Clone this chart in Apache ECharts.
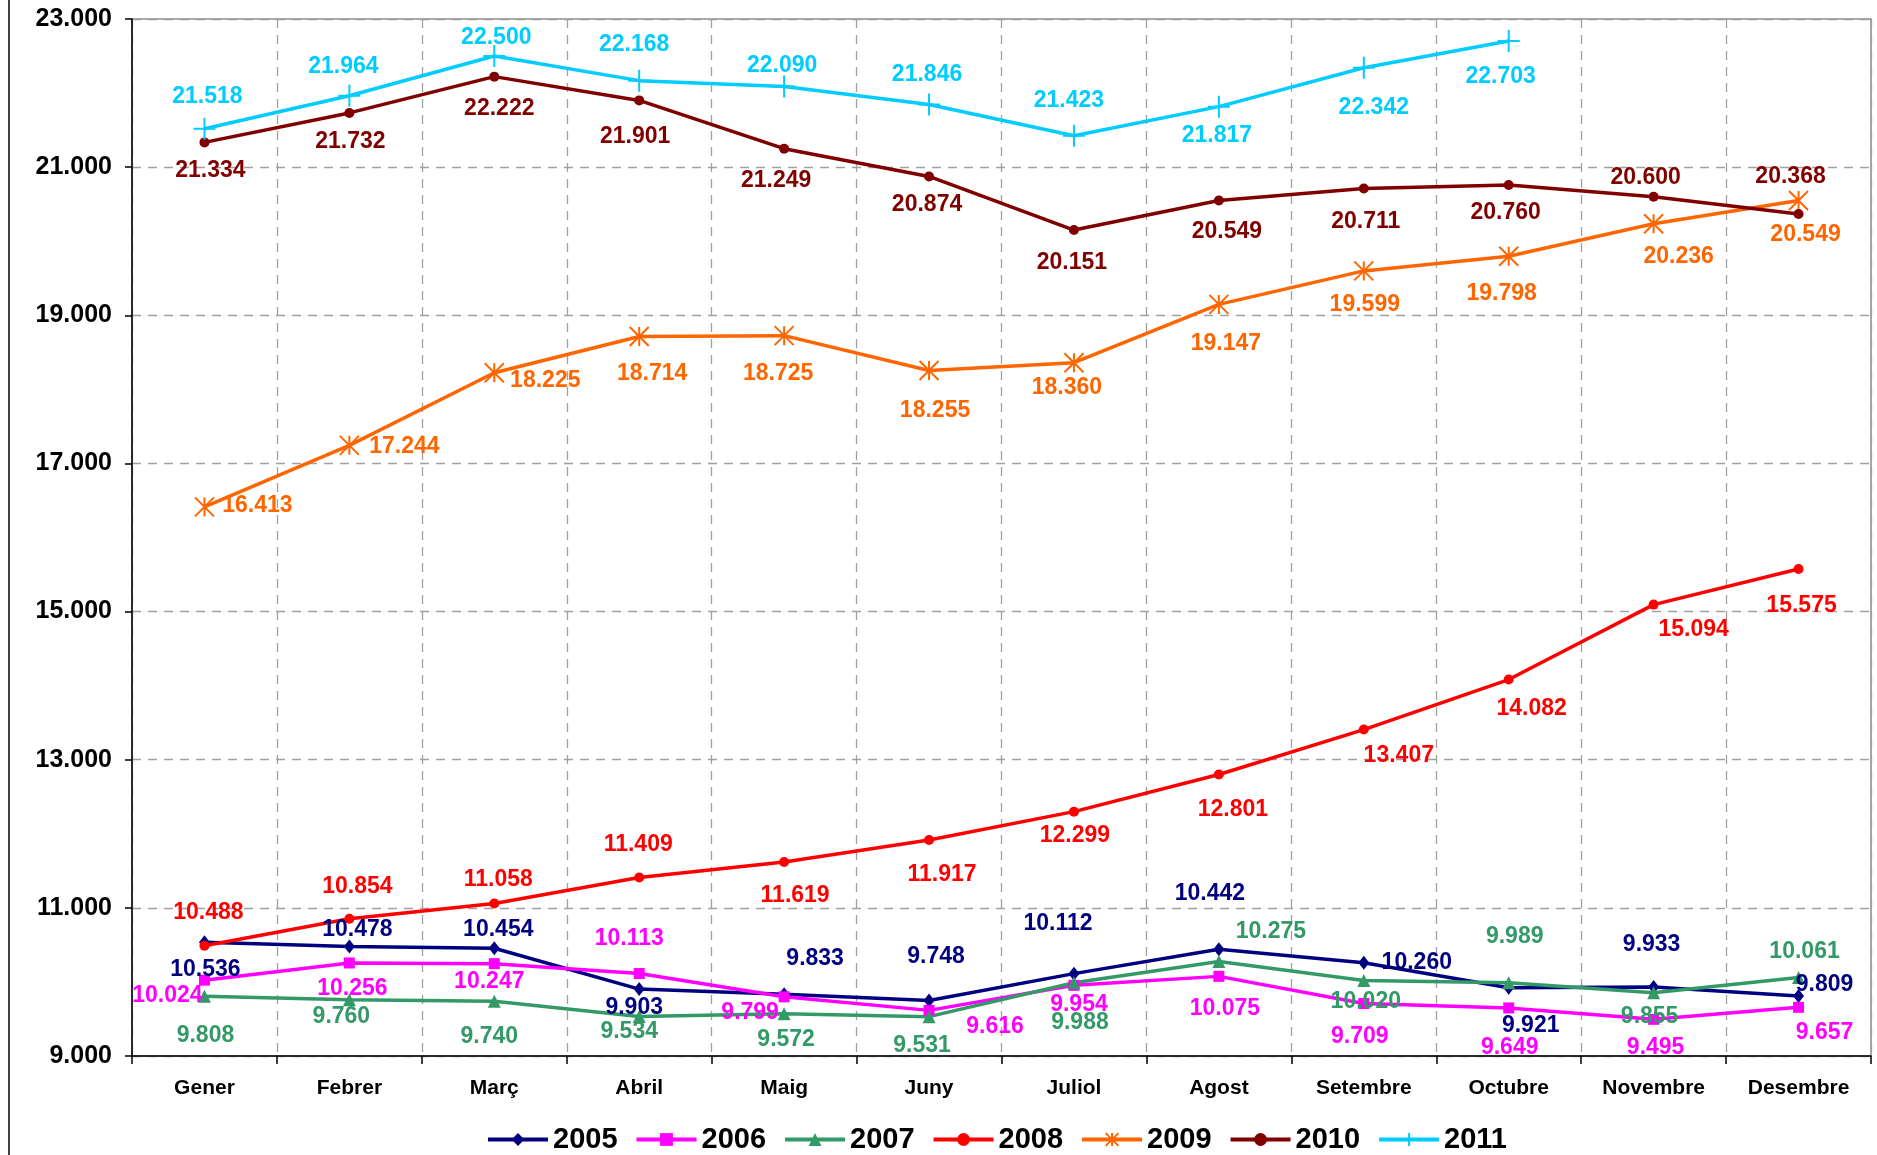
<!DOCTYPE html>
<html>
<head>
<meta charset="utf-8">
<script src="https://cdn.jsdelivr.net/npm/echarts@6/dist/echarts.min.js"></script>
<style>html,body{margin:0;padding:0;background:#fff}#c{width:1877px;height:1155px}</style>
</head>
<body>
<div id="c"></div>
<script>
const categories = ['Gener','Febrer','Març','Abril','Maig','Juny','Juliol','Agost','Setembre','Octubre','Novembre','Desembre'];
const yearNames = ['2005','2006','2007','2008','2009','2010','2011'];
const v2005 = [10536,10478,10454,9903,9833,9748,10112,10442,10260,9921,9933,9809];
const v2006 = [10024,10256,10247,10113,9799,9616,9954,10075,9709,9649,9495,9657];
const v2007 = [9808,9760,9740,9534,9572,9531,9988,10275,10020,9989,9855,10061];
const v2008 = [10488,10854,11058,11409,11619,11917,12299,12801,13407,14082,15094,15575];
const v2009 = [16413,17244,18225,18714,18725,18255,18360,19147,19599,19798,20236,20549];
const v2010 = [21334,21732,22222,21901,21249,20874,20151,20549,20711,20760,20600,20368];
const v2011 = [21518,21964,22500,22168,22090,21846,21423,21817,22342,22703,null,null];
const yTicks = {min: 9000, max: 23000, step: 2000};

// label offsets (style only)
const off2005 = [[1,27],[8,-17],[4,-19],[-5,19],[31,-36],[7,-44],[-16,-50],[-9,-56],[53,0],[22,38],[-2,-42],[26,-11]];
const off2006 = [[-37,16],[3,26],[-5,18],[-10,-35],[-34,16],[66,16],[5,19],[6,32],[-4,33],[1,40],[2,28],[26,25]];
const off2007 = [[1,40],[-8,17],[-5,35],[-10,15],[2,26],[-7,29],[6,40],[52,-30],[2,21],[6,-46],[-4,24],[6,-26]];
const off2008 = [[4,-33],[8,-32],[4,-24],[-1,-33],[11,34],[13,35],[1,24],[14,35],[35,26],[23,29],[40,25],[3,37]];
const off2009 = [[53,-1],[55,1],[51,8],[13,37],[-6,38],[6,40],[-7,25],[7,39],[1,34],[-7,37],[25,33],[7,34]];
const off2010 = [[6,28],[1,29],[5,32],[-4,36],[-8,32],[-2,28],[-2,33],[8,31],[2,33],[-3,28],[-8,-19],[-8,-37]];
const off2011 = [[3,-32],[-6,-29],[2,-18],[-5,-36],[-2,-21],[-2,-30],[-5,-35],[-2,29],[10,40],[-8,36],[0,0],[0,0]];

const FONT = '"Liberation Sans", Arial, Helvetica, sans-serif';
function fmt(v){ return String(v).replace(/\B(?=(\d{3})+(?!\d))/g,'.'); }

const PLUS = 'path://M10,0 L10,20 M0,10 L20,10';
const STAR = 'path://M0,0 L20,20 M20,0 L0,20 M10,0 L10,20';

function mk(name, vals, offs, color, symbol, size, strokeSym) {
  return {
    name: name, type: 'line',
    data: vals.map((v,i) => v == null ? '-' : {value: v, label: {offset: offs[i]}}),
    symbol: symbol, symbolSize: size, showAllSymbol: true,
    lineStyle: {color: color, width: 3.5},
    itemStyle: strokeSym ? {color: color, borderColor: color, borderWidth: 2} : {color: color, borderColor: color, borderWidth: 0},
    label: {
      show: true, position: 'inside', color: color, fontSize: 23, fontWeight: 'bold', fontFamily: FONT,
      formatter: p => fmt(p.value)
    },
    emphasis: {disabled: true},
    connectNulls: false
  };
}

const chart = echarts.init(document.getElementById('c'), null, {renderer: 'canvas'});
chart.setOption({
  animation: false,
  backgroundColor: '#fff',
  grid: {left: 132, right: 6, top: 19, bottom: 99, show: true, borderColor: '#8c8c8c', borderWidth: 1.5, backgroundColor: 'transparent'},
  legend: {
    data: yearNames, left: 486, top: 1125, padding: 0,
    itemWidth: 60, itemHeight: 16, itemGap: 17,
    lineStyle: {width: 4},
    textStyle: {fontSize: 29, fontWeight: 'bold', color: '#000', fontFamily: FONT}
  },
  xAxis: {
    type: 'category', data: categories, boundaryGap: true,
    axisLine: {lineStyle: {color: '#000', width: 1.5}},
    axisTick: {show: true, length: 8, lineStyle: {color: '#000', width: 1.5}},
    axisLabel: {fontSize: 21, fontWeight: 'bold', color: '#000', fontFamily: FONT, margin: 22, interval: 0},
    splitLine: {show: true, interval: 0, lineStyle: {color: '#a0a0a0', width: 1.3, type: [9, 7]}}
  },
  yAxis: {
    type: 'value', min: yTicks.min, max: yTicks.max, interval: yTicks.step,
    axisLine: {show: true, lineStyle: {color: '#000', width: 1.5}},
    axisTick: {show: true, length: 7, lineStyle: {color: '#000', width: 1.5}},
    axisLabel: {fontSize: 25, fontWeight: 'bold', color: '#000', fontFamily: FONT, margin: 20, formatter: v => fmt(v)},
    splitLine: {show: true, lineStyle: {color: '#a0a0a0', width: 1.3, type: [9, 7]}}
  },
  graphic: [{type: 'line', shape: {x1: 9, y1: 0, x2: 9, y2: 1155}, style: {stroke: '#404040', lineWidth: 2}, silent: true}],
  series: [
    mk('2005', v2005, off2005, '#000080', 'diamond', [11, 14], false),
    mk('2006', v2006, off2006, '#FF00FF', 'rect', 11, false),
    mk('2007', v2007, off2007, '#339966', 'triangle', 13, false),
    mk('2008', v2008, off2008, '#FF0000', 'circle', 10, false),
    mk('2009', v2009, off2009, '#FF6600', STAR, 19, true),
    mk('2010', v2010, off2010, '#800000', 'circle', 10, false),
    mk('2011', v2011, off2011, '#00CCFF', PLUS, 22, true)
  ]
});
</script>
</body>
</html>
